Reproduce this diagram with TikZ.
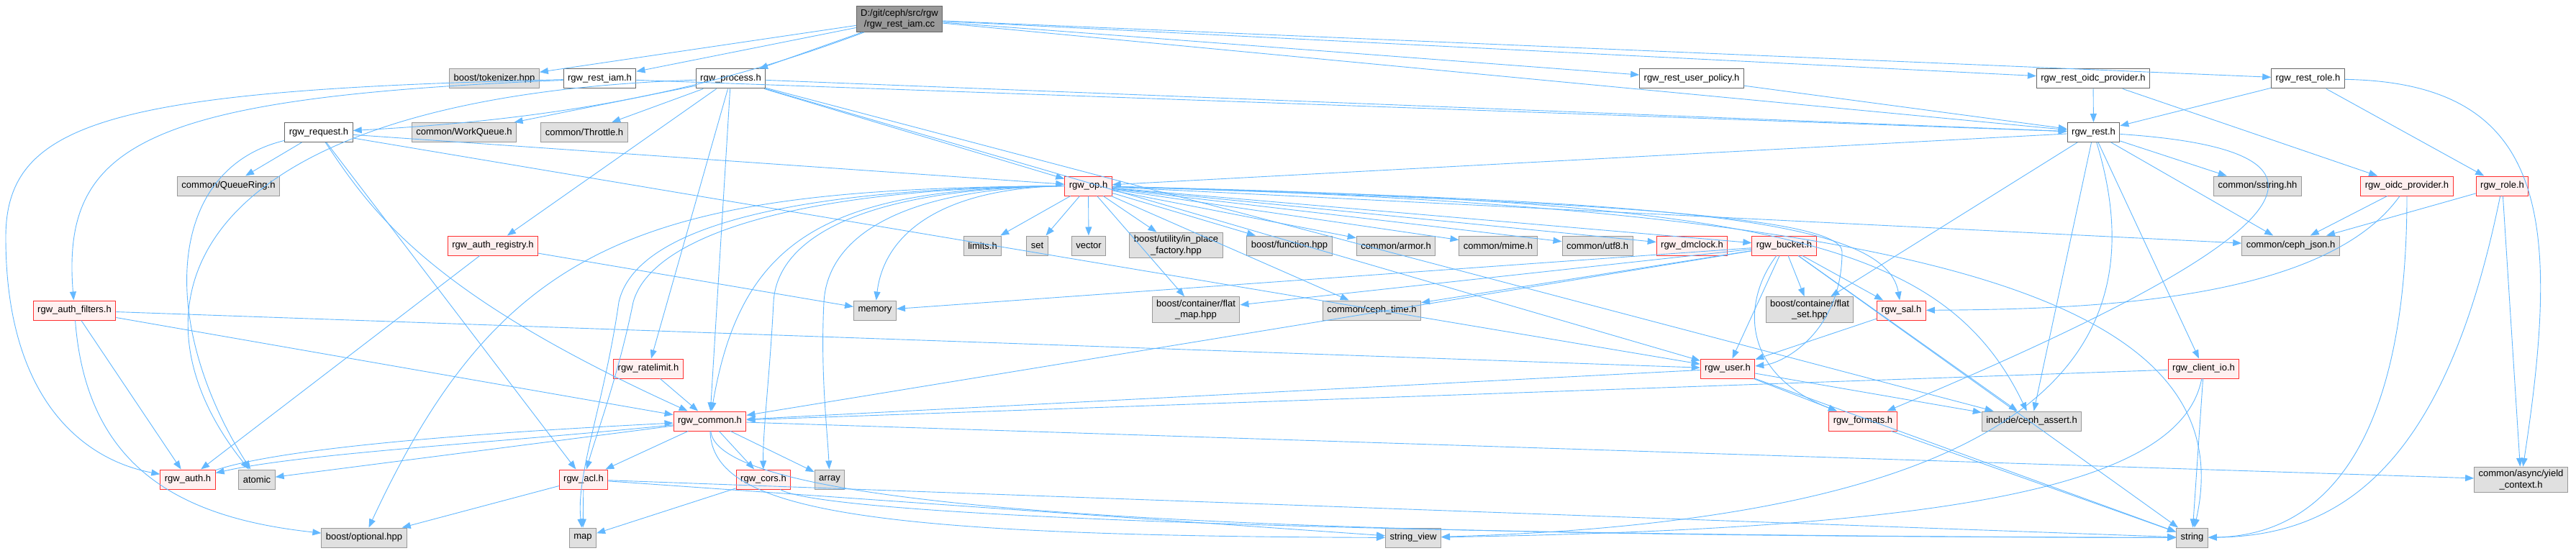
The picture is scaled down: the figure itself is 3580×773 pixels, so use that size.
\documentclass[tikz,border=0pt]{standalone}
\usepackage{fontspec}
\setmainfont{Liberation Sans}
\usetikzlibrary{arrows.meta}

\definecolor{edgeblue}{HTML}{63B8FF}
\definecolor{extfill}{HTML}{E0E0E0}
\definecolor{extline}{HTML}{999999}
\definecolor{truncfill}{HTML}{FFF0F0}
\definecolor{truncline}{HTML}{FF3030}
\definecolor{fileline}{HTML}{666666}
\definecolor{rootfill}{HTML}{999999}

\tikzset{
  box/.style={rectangle, line width=1pt, inner xsep=6pt, inner ysep=4pt,
    minimum height=27pt, align=center, font=\fontsize{13}{15.5}\selectfont},
  rootfile/.style={box, draw=fileline, fill=rootfill},
  localfile/.style={box, draw=fileline, fill=white},
  extfile/.style={box, draw=extline, fill=extfill},
  redfile/.style={box, draw=truncline, fill=truncfill},
  inc/.style={draw=edgeblue, line width=0.9pt, -{Triangle[length=12pt,width=9pt]}}
}

\begin{document}
\begin{tikzpicture}[x=1pt, y=-1pt]
    \useasboundingbox (0,0) rectangle (3580,773);

    % row 0
    \node[rootfile] (cc) at (1250,26.5) {D:/git/ceph/src/rgw\\/rgw\_rest\_iam.cc};

    % row 1
    \node[extfile] (tok) at (687,109.5) {boost/tokenizer.hpp};
    \node[localfile] (restiam) at (833.5,109.5) {rgw\_rest\_iam.h};
    \node[localfile] (process) at (1015.5,109.5) {rgw\_process.h};
    \node[localfile] (userpol) at (2351,109.5) {rgw\_rest\_user\_policy.h};
    \node[localfile] (oidcrest) at (2909,109.5) {rgw\_rest\_oidc\_provider.h};
    \node[localfile] (restrole) at (3207.5,109.5) {rgw\_rest\_role.h};

    % row 2
    \node[localfile] (request) at (443,184) {rgw\_request.h};
    \node[extfile] (workq) at (645,184) {common/WorkQueue.h};
    \node[extfile] (throttle) at (812,184) {common/Throttle.h};
    \node[localfile] (rest) at (2909.5,184) {rgw\_rest.h};

    % row 3
    \node[extfile] (queuering) at (317.5,258.5) {common/QueueRing.h};
    \node[redfile] (op) at (1512.5,258.5) {rgw\_op.h};
    \node[extfile] (sstring) at (3137.5,258.5) {common/sstring.hh};
    \node[redfile] (oidc) at (3345,258.5) {rgw\_oidc\_provider.h};
    \node[redfile] (role) at (3477.5,258.5) {rgw\_role.h};

    % row 4
    \node[redfile] (authreg) at (685,341.5) {rgw\_auth\_registry.h};
    \node[extfile] (limits) at (1365.5,341.5) {limits.h};
    \node[extfile] (set) at (1441.5,341.5) {set};
    \node[extfile] (vector) at (1513,341.5) {vector};
    \node[extfile] (inplace) at (1634.5,341) {boost/utility/in\_place\\\_factory.hpp};
    \node[extfile] (function) at (1792,341.5) {boost/function.hpp};
    \node[extfile] (armor) at (1940,341.5) {common/armor.h};
    \node[extfile] (mime) at (2082,341.5) {common/mime.h};
    \node[extfile] (utf8) at (2220,341.5) {common/utf8.h};
    \node[redfile] (dmclock) at (2351.5,341.5) {rgw\_dmclock.h};
    \node[redfile] (bucket) at (2479.5,341.5) {rgw\_bucket.h};
    \node[extfile] (cephjson) at (3183.5,341.5) {common/ceph\_json.h};

    % row 5
    \node[redfile] (authfilt) at (103.5,431.5) {rgw\_auth\_filters.h};
    \node[extfile] (memory) at (1216,431.5) {memory};
    \node[extfile] (flatmap) at (1662,430.5) {boost/container/flat\\\_map.hpp};
    \node[extfile] (cephtime) at (1906.5,431.5) {common/ceph\_time.h};
    \node[extfile] (flatset) at (2515,430.5) {boost/container/flat\\\_set.hpp};
    \node[redfile] (sal) at (2642.5,431.5) {rgw\_sal.h};

    % row 6
    \node[redfile] (ratelimit) at (901,512.5) {rgw\_ratelimit.h};
    \node[redfile] (user) at (2401,512.5) {rgw\_user.h};
    \node[redfile] (clientio) at (3062.5,512.5) {rgw\_client\_io.h};

    % row 7
    \node[redfile] (common) at (986.5,585.5) {rgw\_common.h};
    \node[redfile] (formats) at (2589,585.5) {rgw\_formats.h};
    \node[extfile] (assert) at (2823.5,585.5) {include/ceph\_assert.h};

    % row 8
    \node[redfile] (auth) at (261,666.5) {rgw\_auth.h};
    \node[extfile] (atomic) at (357,666.5) {atomic};
    \node[redfile] (acl) at (811,666.5) {rgw\_acl.h};
    \node[redfile] (cors) at (1061,666.5) {rgw\_cors.h};
    \node[extfile] (array) at (1153,666.5) {array};
    \node[extfile] (yield) at (3503.5,667) {common/async/yield\\\_context.h};

    % row 9
    \node[extfile] (optional) at (506,747.5) {boost/optional.hpp};
    \node[extfile] (map) at (810,747.5) {map};
    \node[extfile] (stringview) at (1964,747.5) {string\_view};
    \node[extfile] (string) at (3046.5,747.5) {string};

    % straight includes
    \foreach \from/\dest in {cc/tok, cc/restiam, cc/process, cc/userpol, cc/oidcrest,
        cc/restrole, cc/rest, restiam/rest,
        process/workq, process/throttle, process/authreg, process/ratelimit,
        process/common, process/op, process/rest, process/user, process/assert,
        request/queuering, request/acl, request/user, request/op,
        userpol/rest, oidcrest/rest, oidcrest/oidc, restrole/rest, restrole/role,
        rest/op, rest/sstring, rest/cephjson, rest/assert, rest/clientio, rest/flatset,
        op/limits, op/set, op/vector, op/inplace, op/function, op/armor, op/mime,
        op/utf8, op/dmclock, op/bucket, op/cephjson, op/flatmap, op/cephtime,
        authreg/auth, authreg/memory,
        authfilt/auth, authfilt/common, authfilt/user,
        ratelimit/common,
        bucket/common, bucket/user, bucket/sal, bucket/flatset, bucket/flatmap,
        bucket/cephtime, bucket/memory, bucket/string, bucket/assert,
        sal/user,
        user/common, user/formats, user/assert, user/string,
        clientio/common, clientio/string,
        common/atomic, common/acl, common/cors, common/array, common/yield,
        acl/optional, acl/map, acl/string, acl/stringview,
        cors/map,
        formats/string,
        oidc/cephjson, role/cephjson, role/yield}
        \draw[inc] (\from) -- (\dest);

    % curved includes, top part
    \draw[inc] (cc) .. controls (1000,120) and (800,165) .. (request);
    \draw[inc] (restiam) .. controls (150,125) and (8,170) .. (8,330)
        .. controls (8,560) and (120,640) .. (auth);
    \draw[inc] (restiam) .. controls (200,135) and (85,200) .. (authfilt);
    \draw[inc] (process) .. controls (260,135) and (160,420) .. (atomic);
    \draw[inc] (request) .. controls (230,235) and (220,450) .. (atomic);
    \draw[inc] (request) .. controls (520,300) and (600,410) .. (common);
    \draw[inc] (authfilt) .. controls (120,650) and (250,720) .. (optional);

    % rgw_op.h fanning out to the left
    \draw[inc] (op.west) .. controls (1300,262) and (1228,330) .. (memory);
    \draw[inc] (op.west) .. controls (1250,262) and (1150,330) .. (1145,420)
        .. controls (1140,520) and (1150,600) .. (array);
    \draw[inc] (op.west) .. controls (1200,262) and (1080,330) .. (1075,420)
        .. controls (1070,520) and (1060,600) .. (cors);
    \draw[inc] (op.west) .. controls (1150,262) and (1030,330) .. (common);
    \draw[inc] (op.west) .. controls (1100,262) and (905,330) .. (880,420)
        .. controls (860,520) and (830,600) .. (acl);
    \draw[inc] (op.west) .. controls (1050,262) and (880,330) .. (860,420)
        .. controls (840,560) and (800,660) .. (map);
    \draw[inc] (op.west) .. controls (900,262) and (700,330) .. (optional);

    % rgw_op.h fanning out to the right
    \draw[inc] (op) .. controls (2200,280) and (2560,300) .. (2560,350)
        .. controls (2560,460) and (2480,505) .. (user);
    \draw[inc] (op) .. controls (2300,280) and (2620,300) .. (sal);
    \draw[inc] (op) .. controls (2450,280) and (2700,330) .. (assert);
    \draw[inc] (op) .. controls (2700,290) and (3120,420) .. (string);

    % lower part
    \draw[inc] (auth) .. controls (400,620) and (700,600) .. (common);
    \draw[inc] (common) .. controls (700,615) and (420,630) .. (auth);
    \draw[inc] (common) .. controls (990,710) and (1200,745) .. (stringview);
    \draw[inc] (common) .. controls (1000,730) and (2000,745) .. (string);
    \draw[inc] (cors) .. controls (1150,720) and (2000,745) .. (string);
    \draw[inc] (bucket) .. controls (2420,420) and (2420,520) .. (formats);
    \draw[inc] (rest) .. controls (3300,210) and (3200,330) .. (formats);
    \draw[inc] (rest) .. controls (2990,450) and (2900,720) .. (stringview);
    \draw[inc] (clientio) .. controls (3030,680) and (2700,735) .. (stringview);
    \draw[inc] (oidc) .. controls (3230,420) and (2900,430) .. (sal);
    \draw[inc] (oidc) .. controls (3345,660) and (3200,745) .. (string);
    \draw[inc] (role) .. controls (3400,640) and (3260,745) .. (string);
    \draw[inc] (restrole) .. controls (3540,115) and (3560,300) .. (yield);
\end{tikzpicture}
\end{document}
